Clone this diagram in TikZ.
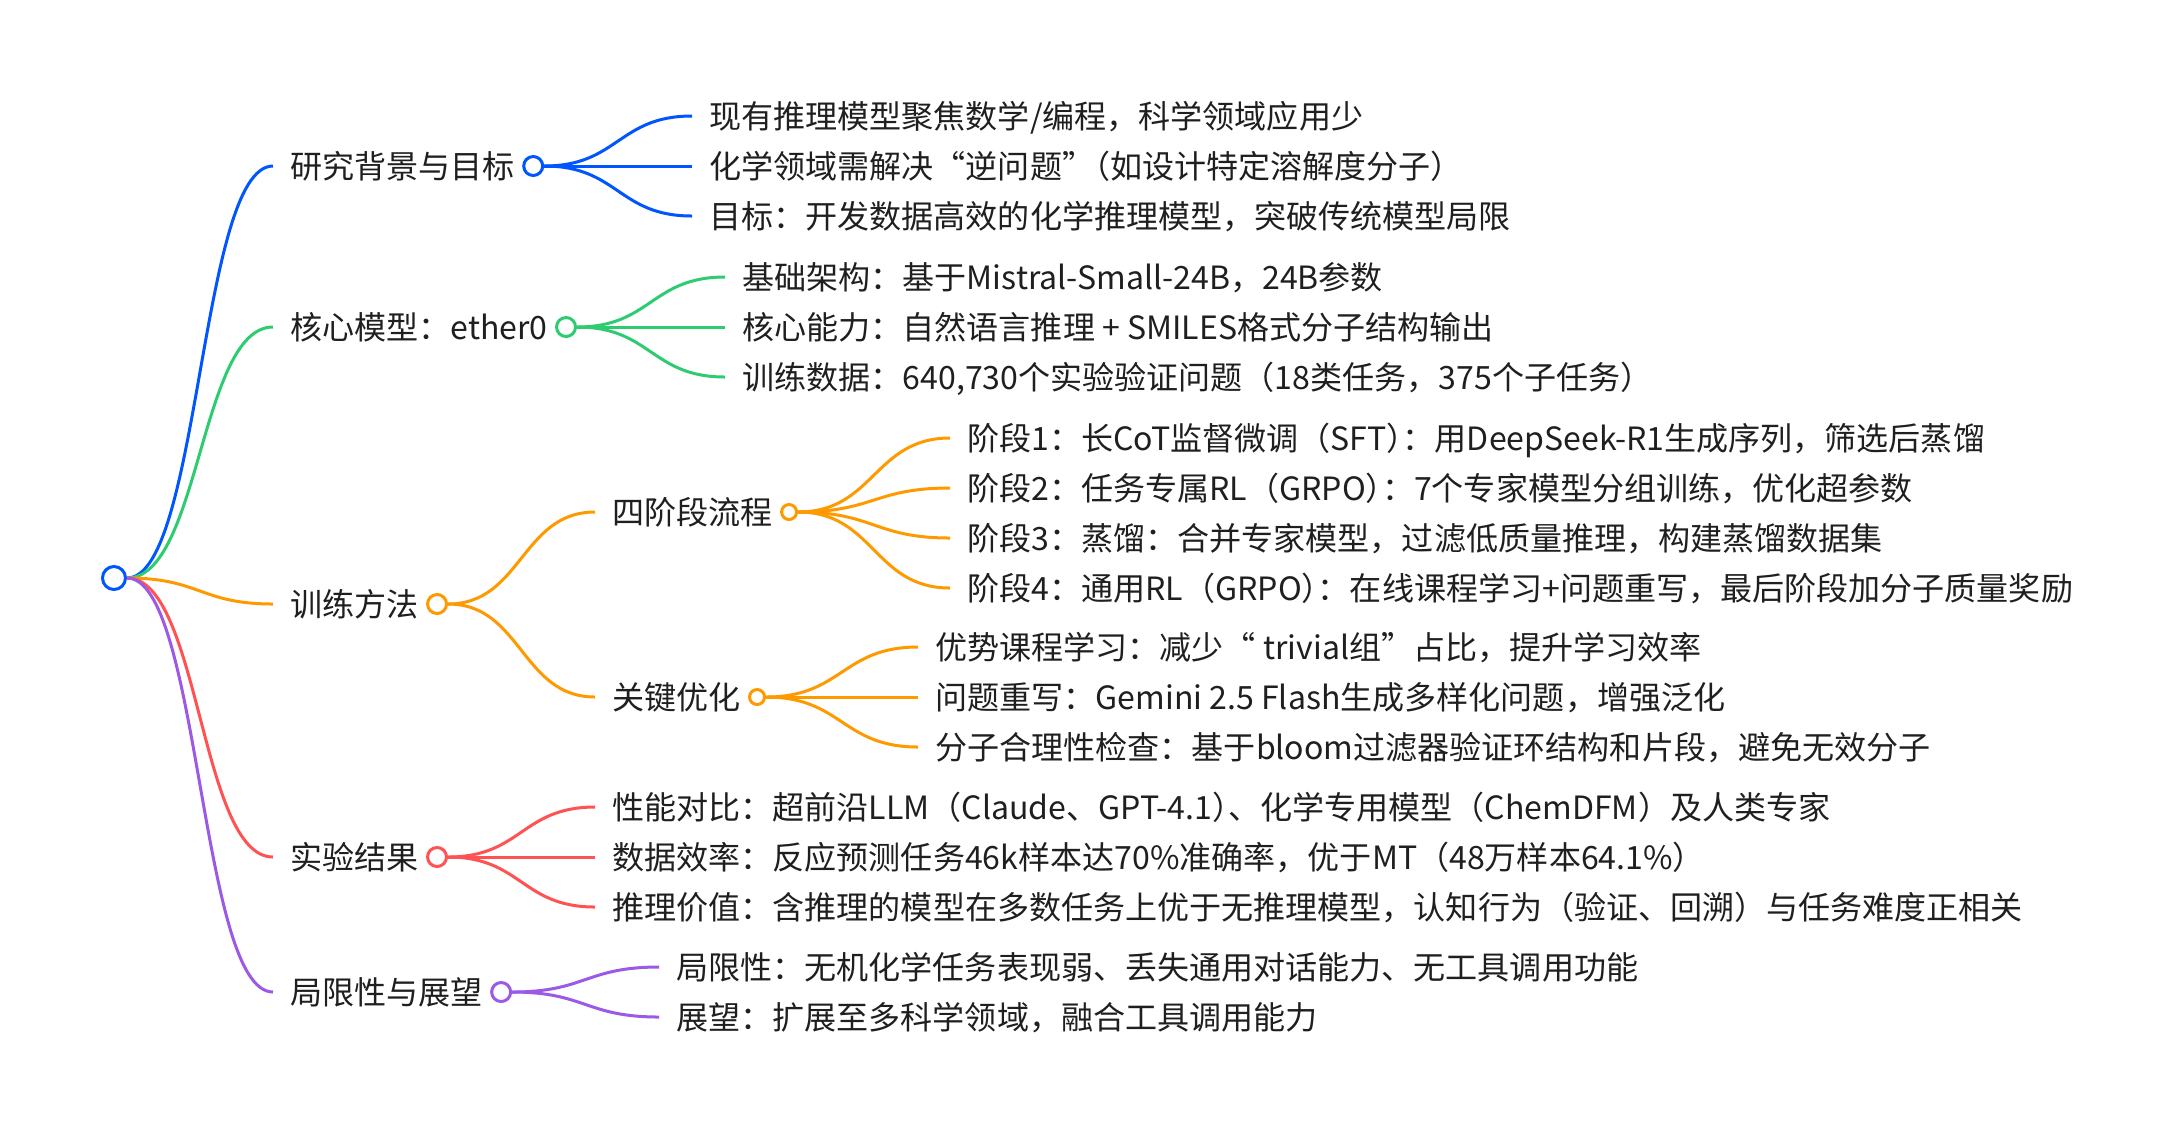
\documentclass[tikz,border=0pt]{standalone}
\usepackage{fontspec}
\setmainfont{Noto Sans CJK SC}
\usetikzlibrary{positioning, calc}
\definecolor{mmblue}{HTML}{0055FF}
\definecolor{mmgreen}{HTML}{2ECC71}
\definecolor{mmorange}{HTML}{FF9900}
\definecolor{mmred}{HTML}{FF5252}
\definecolor{mmpurple}{HTML}{9B59E6}
% horizontal s-curve from a parent dot to a topic
\newcommand{\branch}[3]{\path [link, draw=#1] let \p1=(#2), \p2=([xshift=-8.5pt]#3.west) in (\p1) .. controls ({(\x1+\x2)/2}, \y1) and ({(\x1+\x2)/2}, \y2) .. (\p2);}
% squeeze two full-width punctuation marks
\newcommand{\sq}{\kern-0.5em}

\begin{document}
\begin{tikzpicture}[x=0.5pt, y=-0.5pt, font=\fontsize{16.03pt}{19pt}\selectfont]
    \tikzstyle{topic} = [anchor=west, inner sep=0pt, text height=14pt, text depth=2pt, text=black!88]
    \tikzstyle{dot} = [circle, draw, line width=1.5pt, fill=white, inner sep=0pt, minimum size=9.5pt]
    \tikzstyle{subdot} = [dot, minimum size=7.5pt]
    \tikzstyle{link} = [line width=1.5pt]
    \useasboundingbox (0,0) rectangle (2168,1132);

    \node [dot, draw=mmblue, minimum size=11.5pt] (root) at (114,578) {};

    % first level
    \node [topic] (bg) at (290,166) {研究背景与目标};
    \node [dot, draw=mmblue, right=3.5pt of bg] (bgdot) {};
    \node [topic] (core) at (290,327) {核心模型：ether0};
    \node [dot, draw=mmgreen, right=3.5pt of core] (coredot) {};
    \node [topic] (train) at (290,604) {训练方法};
    \node [dot, draw=mmorange, right=3.5pt of train] (traindot) {};
    \node [topic] (result) at (290,857) {实验结果};
    \node [dot, draw=mmred, right=3.5pt of result] (resultdot) {};
    \node [topic] (limit) at (290,992) {局限性与展望};
    \node [dot, draw=mmpurple, right=3.5pt of limit] (limitdot) {};

    % research background
    \node [topic] (bg1) at (709,116) {现有推理模型聚焦数学/编程，科学领域应用少};
    \node [topic] (bg2) at (709,166) {化学领域需解决“逆问题”\sq（如设计特定溶解度分子）};
    \node [topic] (bg3) at (709,216) {目标：开发数据高效的化学推理模型，突破传统模型局限};

    % core model
    \node [topic] (core1) at (742,277) {基础架构：基于Mistral-Small-24B，24B参数};
    \node [topic] (core2) at (742,327) {核心能力：自然语言推理 + SMILES格式分子结构输出};
    \node [topic] (core3) at (742,377) {训练数据：640,730个实验验证问题（18类任务，375个子任务）};

    % training
    \node [topic] (stage) at (612,512) {四阶段流程};
    \node [subdot, draw=mmorange, right=3.5pt of stage] (stagedot) {};
    \node [topic] (opt) at (612,697) {关键优化};
    \node [subdot, draw=mmorange, right=3.5pt of opt] (optdot) {};

    \node [topic] (stage1) at (967,438) {阶段1：长CoT监督微调（SFT）\sq：用DeepSeek-R1生成序列，筛选后蒸馏};
    \node [topic] (stage2) at (967,488) {阶段2：任务专属RL（GRPO）\sq：7个专家模型分组训练，优化超参数};
    \node [topic] (stage3) at (967,538) {阶段3：蒸馏：合并专家模型，过滤低质量推理，构建蒸馏数据集};
    \node [topic] (stage4) at (967,588) {阶段4：通用RL（GRPO）\sq：在线课程学习+问题重写，最后阶段加分子质量奖励};

    \node [topic] (opt1) at (935,647) {优势课程学习：减少“ trivial组”占比，提升学习效率};
    \node [topic] (opt2) at (935,697) {问题重写：Gemini 2.5 Flash生成多样化问题，增强泛化};
    \node [topic] (opt3) at (935,747) {分子合理性检查：基于bloom过滤器验证环结构和片段，避免无效分子};

    % results
    \node [topic] (res1) at (612,807) {性能对比：超前沿LLM（Claude、GPT-4.1）\sq、化学专用模型（ChemDFM）及人类专家};
    \node [topic] (res2) at (612,857) {数据效率：反应预测任务46k样本达70\%准确率，优于MT（48万样本64.1\%）};
    \node [topic] (res3) at (612,907) {推理价值：含推理的模型在多数任务上优于无推理模型，认知行为（验证、回溯）与任务难度正相关};

    % limits
    \node [topic] (lim1) at (676,967) {局限性：无机化学任务表现弱、丢失通用对话能力、无工具调用功能};
    \node [topic] (lim2) at (676,1017) {展望：扩展至多科学领域，融合工具调用能力};

    \branch{mmblue}{root.east}{bg}
    \branch{mmgreen}{root.east}{core}
    \branch{mmorange}{root.east}{train}
    \branch{mmred}{root.east}{result}
    \branch{mmpurple}{root.east}{limit}

    \foreach \leaf in {bg1, bg2, bg3} {\branch{mmblue}{bgdot.east}{\leaf}}
    \foreach \leaf in {core1, core2, core3} {\branch{mmgreen}{coredot.east}{\leaf}}
    \foreach \leaf in {stage, opt} {\branch{mmorange}{traindot.east}{\leaf}}
    \foreach \leaf in {stage1, stage2, stage3, stage4} {\branch{mmorange}{stagedot.east}{\leaf}}
    \foreach \leaf in {opt1, opt2, opt3} {\branch{mmorange}{optdot.east}{\leaf}}
    \foreach \leaf in {res1, res2, res3} {\branch{mmred}{resultdot.east}{\leaf}}
    \foreach \leaf in {lim1, lim2} {\branch{mmpurple}{limitdot.east}{\leaf}}
\end{tikzpicture}
\end{document}
